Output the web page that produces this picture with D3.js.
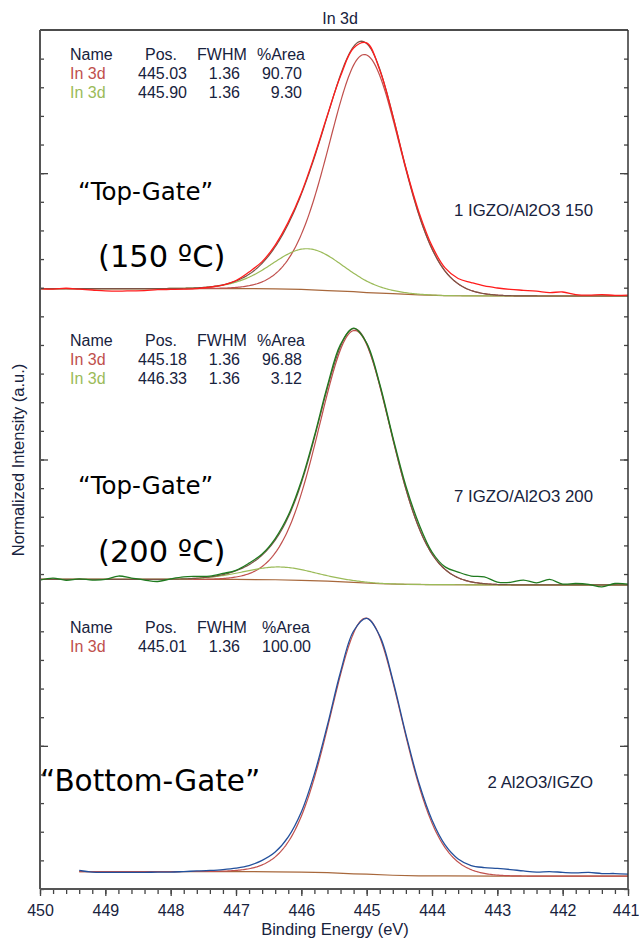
<!DOCTYPE html>
<html>
<head>
<meta charset="utf-8">
<script src="https://cdn.jsdelivr.net/npm/d3@7"></script>
<style>
  html, body { margin: 0; padding: 0; background: #fff; }
  svg { display: block; }
</style>
</head>
<body>
<svg id="chart" width="639" height="940"></svg>
<script>
// ---------------------------------------------------------------
// In 3d core-level spectra, three samples stacked 10 units apart
// ---------------------------------------------------------------

// Binding-energy grid of the measured spectra (eV)
const energyFull = [450.0, 449.8, 449.6, 449.4, 449.2, 449.0, 448.8, 448.6, 448.4, 448.2,
  448.0, 447.8, 447.6, 447.4, 447.2, 447.0, 446.8, 446.6, 446.4, 446.2,
  446.0, 445.8, 445.6, 445.4, 445.2, 445.0, 444.8, 444.6, 444.4, 444.2,
  444.0, 443.8, 443.6, 443.4, 443.2, 443.0, 442.8, 442.6, 442.4, 442.2,
  442.0, 441.8, 441.6, 441.4, 441.2, 441.0];
const energyShort = [449.4, 449.2, 449.0, 448.8, 448.6, 448.4, 448.2,
  448.0, 447.8, 447.6, 447.4, 447.2, 447.0, 446.8, 446.6, 446.4, 446.2,
  446.0, 445.8, 445.6, 445.4, 445.2, 445.0, 444.8, 444.6, 444.4, 444.2,
  444.0, 443.8, 443.6, 443.4, 443.2, 443.0, 442.8, 442.6, 442.4, 442.2,
  442.0, 441.8, 441.6, 441.4, 441.2, 441.0];

// Measured intensities (normalized, each panel 0–10)
const rawTop = [0.97, 0.95, 0.98, 0.95, 0.92, 0.89, 0.88, 0.89, 0.90, 0.93,
  0.94, 0.95, 0.97, 1.02, 1.09, 1.25, 1.55, 1.91, 2.49, 3.29,
  4.31, 5.60, 7.03, 8.39, 9.37, 9.55, 8.60, 7.00, 5.18, 3.64,
  2.46, 1.69, 1.32, 1.18, 1.06, 0.99, 0.94, 0.91, 0.88, 0.83,
  0.85, 0.76, 0.74, 0.76, 0.73, 0.74];
const rawMiddle = [0.79, 0.86, 0.78, 0.83, 0.79, 0.81, 0.93, 0.86, 0.79, 0.74,
  0.83, 0.90, 0.92, 0.93, 1.02, 1.13, 1.38, 1.70, 2.24, 3.05,
  4.25, 5.82, 7.58, 9.02, 9.59, 9.07, 7.64, 5.79, 4.08, 2.75,
  1.77, 1.25, 1.07, 0.93, 0.90, 0.72, 0.71, 0.79, 0.69, 0.81,
  0.65, 0.67, 0.64, 0.55, 0.67, 0.65];
const rawBottom = [0.65, 0.59, 0.58, 0.58, 0.58, 0.58, 0.59,
  0.59, 0.61, 0.63, 0.65, 0.68, 0.73, 0.82, 1.00, 1.29, 1.82,
  2.69, 4.02, 5.73, 7.58, 9.01, 9.45, 8.84, 7.30, 5.41, 3.70,
  2.41, 1.54, 1.05, 0.82, 0.75, 0.72, 0.68, 0.63, 0.59, 0.61,
  0.58, 0.56, 0.58, 0.54, 0.54, 0.52];

// Background (Shirley-type) nodes
const bgTopE = [450.0, 447.0, 446.4, 446.0, 445.6, 445.2, 445.0, 444.6, 444.2, 443.8, 443.0, 441.0];
const bgTopI = [0.97, 0.97, 0.96, 0.94, 0.90, 0.86, 0.83, 0.79, 0.75, 0.72, 0.71, 0.71];
const bgMiddleE = [450.0, 447.0, 446.4, 446.0, 445.6, 445.2, 444.8, 444.4, 444.0, 443.0, 441.0];
const bgMiddleI = [0.81, 0.81, 0.80, 0.78, 0.75, 0.71, 0.66, 0.64, 0.63, 0.62, 0.62];
const bgBottomE = [449.4, 447.0, 446.4, 446.0, 445.6, 445.2, 445.0, 444.6, 444.2, 443.8, 443.0, 441.0];
const bgBottomI = [0.61, 0.61, 0.60, 0.59, 0.57, 0.53, 0.52, 0.48, 0.46, 0.46, 0.45, 0.45];

// Fitted components (table values) and peak heights
const peakNames = ["In 3d", "In 3d"];
const posTop = [445.03, 445.90];
const fwhmTop = [1.36, 1.36];
const areaTop = [90.70, 9.30];
const heightTop = [8.31, 1.43];
const posMiddle = [445.18, 446.33];
const fwhmMiddle = [1.36, 1.36];
const areaMiddle = [96.88, 3.12];
const heightMiddle = [8.80, 0.45];
const posBottom = [445.01];
const fwhmBottom = [1.36];
const areaBottom = [100.00];
const heightBottom = [8.94];

// Labels
const sampleNames = ["1 IGZO/Al2O3 150", "7 IGZO/Al2O3 200", "2 Al2O3/IGZO"];
const gateLabels = [["“Top-Gate”", "(150 ºC)"], ["“Top-Gate”", "(200 ºC)"], ["“Bottom-Gate”"]];
const xTickValues = [450, 449, 448, 447, 446, 445, 444, 443, 442, 441];
const xTickLabels = ["450", "449", "448", "447", "446", "445", "444", "443", "442", "441"];
const tableHeaders = ["Name", "Pos.", "FWHM", "%Area"];

// ---------------------------------------------------------------
const svg = d3.select("#chart");
const plot = { left: 40, right: 628, top: 30, bottom: 889 };

const x = d3.scaleLinear().domain([450, 441]).range([plot.left, plot.right]);
const y = d3.scaleLinear().domain([0, 30]).range([plot.bottom, plot.top]);

const sansFont = "'Liberation Sans', Arial, sans-serif";
const bigFont = "'DejaVu Sans', Verdana, sans-serif";
const textColor = "#17223d";
const compColors = ["#c0504d", "#9bbb59"];
const envColor = "#7a5446";
const bgColor = "#a8683c";

const panels = [
  { offset: 20, energy: energyFull, raw: rawTop, rawColor: "#ff1c1c",
    bgE: bgTopE, bgI: bgTopI, pos: posTop, fwhm: fwhmTop, area: areaTop, height: heightTop,
    areaRight: 302, areaHeadRight: 305 },
  { offset: 10, energy: energyFull, raw: rawMiddle, rawColor: "#1f7a1f",
    bgE: bgMiddleE, bgI: bgMiddleI, pos: posMiddle, fwhm: fwhmMiddle, area: areaMiddle, height: heightMiddle,
    areaRight: 302, areaHeadRight: 305 },
  { offset: 0, energy: energyShort, raw: rawBottom, rawColor: "#23509c",
    bgE: bgBottomE, bgI: bgBottomI, pos: posBottom, fwhm: fwhmBottom, area: areaBottom, height: heightBottom,
    areaRight: 311, areaHeadRight: 310 }
];

// Gaussian–Lorentzian product line shape, GL(30)
function glShape(e, pos, fwhm) {
  const m = 0.3;
  const t = 4 * (e - pos) * (e - pos) / (fwhm * fwhm);
  return Math.exp(-Math.LN2 * (1 - m) * t) / (1 + m * t);
}

const plotArea = svg.append("g");

panels.forEach((p, pi) => {
  const g = plotArea.append("g").attr("class", "panel");
  const bg = d3.scaleLinear().domain(p.bgE).range(p.bgI);
  const eHi = p.energy[0], eLo = p.energy[p.energy.length - 1];
  const grid = d3.range(eHi, eLo - 1e-9, -0.02);

  const line = d3.line()
    .x(d => x(d[0]))
    .y(d => y(p.offset + d[1]));
  const smooth = d3.line()
    .x(d => x(d[0]))
    .y(d => y(p.offset + d[1]))
    .curve(d3.curveCatmullRom.alpha(0.5));

  // background
  g.append("path")
    .datum(p.bgE.map((e, i) => [e, p.bgI[i]]).filter(d => d[0] <= eHi + 1e-9))
    .attr("fill", "none").attr("stroke", bgColor).attr("stroke-width", 1.2)
    .attr("d", line);

  // components
  p.pos.forEach((pos, ci) => {
    const pts = grid.map(e => [e, bg(e) + p.height[ci] * glShape(e, pos, p.fwhm[ci])]);
    g.append("path").datum(pts)
      .attr("fill", "none").attr("stroke", compColors[ci]).attr("stroke-width", 1.2)
      .attr("d", line);
  });

  // envelope
  if (p.pos.length > 1) {
    const env = grid.map(e => [e, bg(e) + d3.sum(p.pos, (pos, ci) => p.height[ci] * glShape(e, pos, p.fwhm[ci]))]);
    g.append("path").datum(env)
      .attr("fill", "none").attr("stroke", envColor).attr("stroke-width", 1.2)
      .attr("d", line);
  }

  // measured spectrum
  g.append("path")
    .datum(p.energy.map((e, i) => [e, p.raw[i]]))
    .attr("fill", "none").attr("stroke", p.rawColor).attr("stroke-width", 1.3)
    .attr("stroke-linejoin", "round")
    .attr("d", smooth);

  // fit table
  const hy = y(p.offset + 8.95);
  const rowStep = 19;
  const tg = svg.append("g").attr("font-family", sansFont).attr("font-size", 16).attr("fill", textColor);
  tg.append("text").attr("x", 70).attr("y", hy).text(tableHeaders[0]);
  tg.append("text").attr("x", 161).attr("y", hy).attr("text-anchor", "middle").text(tableHeaders[1]);
  tg.append("text").attr("x", 197).attr("y", hy).text(tableHeaders[2]);
  tg.append("text").attr("x", p.areaHeadRight).attr("y", hy).attr("text-anchor", "end").text(tableHeaders[3]);
  p.pos.forEach((pos, ci) => {
    const ry = hy + rowStep * (ci + 1);
    tg.append("text").attr("x", 70).attr("y", ry).attr("fill", compColors[ci]).text(peakNames[ci]);
    tg.append("text").attr("x", 187).attr("y", ry).attr("text-anchor", "end").text(pos.toFixed(2));
    tg.append("text").attr("x", 240).attr("y", ry).attr("text-anchor", "end").text(p.fwhm[ci].toFixed(2));
    tg.append("text").attr("x", p.areaRight).attr("y", ry).attr("text-anchor", "end").text(p.area[ci].toFixed(2));
  });

  // sample name
  svg.append("text")
    .attr("x", 593).attr("y", y(p.offset + 10) + 185.5)
    .attr("text-anchor", "end")
    .attr("font-family", sansFont).attr("font-size", 16.8).attr("fill", textColor)
    .text(sampleNames[pi]);
});

// gate annotations: [x, baseline, font size]
const gateStyle = [
  [[78, 200, 24.5], [98, 267, 30.5]],
  [[78, 494, 24.5], [98, 562, 30.5]],
  [[40, 791, 29.5]]
];
gateLabels.forEach((lines, pi) => {
  lines.forEach((t, li) => {
    const s = gateStyle[pi][li];
    svg.append("text")
      .attr("x", s[0]).attr("y", s[1])
      .attr("font-family", bigFont)
      .attr("font-size", s[2]).attr("fill", "#000")
      .text(t);
  });
});

// ---------------- axes and frame ----------------
const minorTicks = d3.range(450, 440.99, -0.2);
const xAxisMinor = svg.append("g").attr("transform", `translate(0,${plot.bottom})`)
  .call(d3.axisBottom(x).tickValues(minorTicks).tickSize(5).tickFormat(""));
const xAxisMajor = svg.append("g").attr("transform", `translate(0,${plot.bottom})`)
  .call(d3.axisBottom(x).tickValues(xTickValues).tickSize(7).tickPadding(9)
    .tickFormat((d, i) => xTickLabels[i]));
[xAxisMinor, xAxisMajor].forEach(a => {
  a.select(".domain").remove();
  a.selectAll("line").attr("stroke", "#444").attr("stroke-width", 1.3);
});
xAxisMajor.selectAll("text")
  .attr("font-family", sansFont).attr("font-size", 16).attr("fill", textColor);
// keep the last label inside the page edge
xAxisMajor.selectAll("text").filter(d => d === 441)
  .attr("text-anchor", "end").attr("x", 639 - plot.right);

const yMinor = d3.range(0, 30, 1);
const yMajor = [5, 15, 25];
function sideTicks(xPos, dir) {
  const axisFn = dir > 0 ? d3.axisRight : d3.axisLeft;
  const a1 = svg.append("g").attr("transform", `translate(${xPos},0)`)
    .call(axisFn(y).tickValues(yMinor).tickSize(4).tickFormat(""));
  const a2 = svg.append("g").attr("transform", `translate(${xPos},0)`)
    .call(axisFn(y).tickValues(yMajor).tickSize(8).tickFormat(""));
  [a1, a2].forEach(a => {
    a.select(".domain").remove();
    a.selectAll("line").attr("stroke", "#444").attr("stroke-width", 1.3);
  });
}
sideTicks(plot.left, 1);
sideTicks(plot.right, -1);

const frame = svg.append("g").attr("fill", "none");
frame.append("line").attr("x1", plot.left).attr("x2", plot.right).attr("y1", plot.top).attr("y2", plot.top)
  .attr("stroke", "#111").attr("stroke-width", 1.5);
frame.append("line").attr("x1", plot.left).attr("x2", plot.left).attr("y1", plot.top).attr("y2", plot.bottom)
  .attr("stroke", "#555").attr("stroke-width", 2);
frame.append("line").attr("x1", plot.right).attr("x2", plot.right).attr("y1", plot.top).attr("y2", plot.bottom)
  .attr("stroke", "#333").attr("stroke-width", 1.5);
frame.append("line").attr("x1", plot.left).attr("x2", plot.right).attr("y1", plot.bottom).attr("y2", plot.bottom)
  .attr("stroke", "#555").attr("stroke-width", 2);

// titles
svg.append("text").attr("x", 340).attr("y", 24).attr("text-anchor", "middle")
  .attr("font-family", sansFont).attr("font-size", 16).attr("fill", textColor).text("In 3d");
svg.append("text").attr("x", (plot.left + plot.right) / 2 + 1).attr("y", 935).attr("text-anchor", "middle")
  .attr("font-family", sansFont).attr("font-size", 16.5).attr("fill", textColor).text("Binding Energy (eV)");
svg.append("text").attr("transform", "translate(24,460) rotate(-90)").attr("text-anchor", "middle")
  .attr("font-family", sansFont).attr("font-size", 16.5).attr("fill", textColor).text("Normalized Intensity (a.u.)");
</script>
</body>
</html>
